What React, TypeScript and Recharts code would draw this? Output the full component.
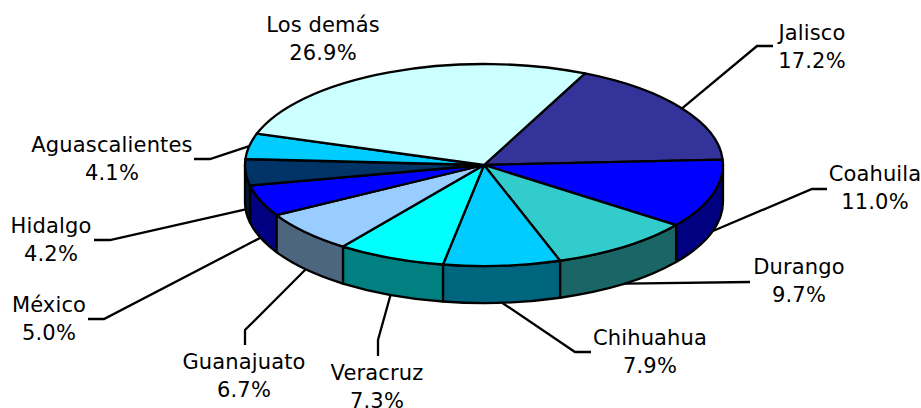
import { PieChart, Pie } from "recharts";

const STATES = ["Jalisco", "Coahuila", "Durango", "Chihuahua", "Veracruz", "Guanajuato", "México", "Hidalgo", "Aguascalientes", "Los demás"];
const SHARES = [17.2, 11.0, 9.7, 7.9, 7.3, 6.7, 5.0, 4.2, 4.1, 26.9];
const TOP_COLORS = ["#333399", "#0000ff", "#33cccc", "#00ccff", "#00ffff", "#99ccff", "#0000ff", "#003366", "#00ccff", "#ccffff"];
const WALL_COLORS = ["#1a1a4d", "#000080", "#1a6666", "#006680", "#008080", "#4d6680", "#000080", "#001a33", "#006680", "#668080"];

// [label centre x, first line baseline y, elbow x, elbow y, end x, end y]; no leader for Los demás
const LABEL_SPOTS: number[][] = [
  [812, 40, 757, 46, 773, 46],
  [875, 181, 812, 189, 827, 189],
  [799, 274, 750, 282, 750, 282],
  [650, 345, 575, 352, 591, 352],
  [377, 380, 378, 340, 378, 356],
  [244, 369, 245, 330, 245, 345],
  [49, 312, 104, 319, 88, 319],
  [51, 233, 110, 240, 94, 240],
  [112, 152, 210, 159, 194, 159],
  [323, 32],
];

const rows = STATES.map((name, i) => ({ name, value: SHARES[i] }));

const RX = 239;
const RY = 101;
const DEPTH = 37;
const RAD = Math.PI / 180;
const LINE = 2.3;

const rim = (cx: number, cy: number, deg: number) => [cx + RX * Math.cos(deg * RAD), cy - RY * Math.sin(deg * RAD)];

function TopSlice(props: any) {
  const { cx, cy, startAngle, endAngle, index } = props;
  const hi = Math.max(startAngle, endAngle);
  const lo = Math.min(startAngle, endAngle);
  const [x1, y1] = rim(cx, cy, hi);
  const [x2, y2] = rim(cx, cy, lo);
  const large = hi - lo > 180 ? 1 : 0;
  return (
    <path
      d={`M${cx},${cy}L${x1},${y1}A${RX},${RY} 0 ${large} 1 ${x2},${y2}Z`}
      fill={TOP_COLORS[index]}
      stroke="#000"
      strokeWidth={LINE}
      strokeLinejoin="round"
    />
  );
}

// only the front half of the rim (angles 0 to -180 here) has a visible wall
function WallSlice(props: any) {
  const { cx, cy, startAngle, endAngle, index } = props;
  const hi = Math.min(Math.max(startAngle, endAngle), 0);
  const lo = Math.max(Math.min(startAngle, endAngle), -180);
  if (hi <= lo) return <g />;
  const [x1, y1] = rim(cx, cy, hi);
  const [x2, y2] = rim(cx, cy, lo);
  return (
    <path
      d={`M${x1},${y1}A${RX},${RY} 0 0 1 ${x2},${y2}L${x2},${y2 + DEPTH}A${RX},${RY} 0 0 0 ${x1},${y1 + DEPTH}Z`}
      fill={WALL_COLORS[index]}
      stroke="#000"
      strokeWidth={LINE}
      strokeLinejoin="round"
    />
  );
}

function SliceLabel(props: any) {
  const { cx, cy, midAngle, index } = props;
  const spot = LABEL_SPOTS[index];
  const [sx, sy0] = rim(cx, cy, midAngle);
  const sy = Math.sin(midAngle * RAD) < 0 ? sy0 + DEPTH : sy0;
  return (
    <g>
      {spot.length > 2 && (
        <polyline
          points={`${sx},${sy} ${spot[2]},${spot[3]} ${spot[4]},${spot[5]}`}
          fill="none"
          stroke="#000"
          strokeWidth={LINE}
        />
      )}
      <text x={spot[0]} y={spot[1]} textAnchor="middle" fontFamily="'DejaVu Sans'" fontSize={21} letterSpacing={0.15} fill="#000">
        {STATES[index]}
      </text>
      <text x={spot[0]} y={spot[1] + 28} textAnchor="middle" fontFamily="'DejaVu Sans'" fontSize={21} letterSpacing={0.15} fill="#000">
        {SHARES[index].toFixed(1)}%
      </text>
    </g>
  );
}

export default function App() {
  return (
    <div style={{ position: "absolute", left: 0, top: 0, width: 921, height: 408, background: "#fff" }}>
      <PieChart width={921} height={408} margin={{ top: 0, right: 0, bottom: 0, left: 0 }}>
        <Pie
          data={rows}
          dataKey="value"
          nameKey="name"
          cx={484}
          cy={165}
          outerRadius={RX}
          startAngle={65}
          endAngle={-295}
          shape={WallSlice}
          stroke="none"
          labelLine={false}
          isAnimationActive={false}
        />
        <Pie
          data={rows}
          dataKey="value"
          nameKey="name"
          cx={484}
          cy={165}
          outerRadius={RX}
          startAngle={65}
          endAngle={-295}
          shape={TopSlice}
          stroke="none"
          label={SliceLabel}
          labelLine={false}
          isAnimationActive={false}
        />
      </PieChart>
    </div>
  );
}
